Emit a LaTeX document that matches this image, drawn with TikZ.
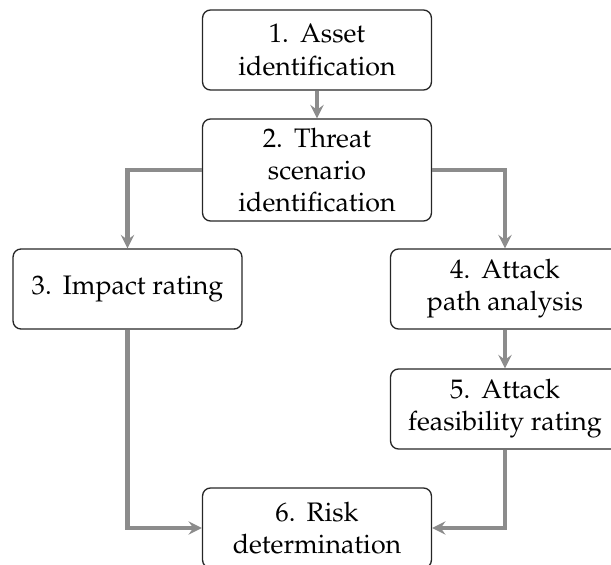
\documentclass[tikz,border=0pt]{standalone}
\usepackage[T1]{fontenc}
\usepackage{mathpazo}
\usetikzlibrary{arrows.meta}
\newcommand{\stepno}[1]{#1.\hspace{4.2pt}}
\begin{document}
\begin{tikzpicture}[x=0.3735pt,y=-0.3735pt,
  stepbox/.style={draw=black!85, line width=0.5pt, rounded corners=3pt,
    minimum width=85.5pt, minimum height=29.9pt, align=center, font=\fontsize{10}{12}\selectfont},
  flow/.style={draw=black!45, line width=1.5pt, -{Stealth[length=5pt,width=5pt,inset=1.8pt]}}]
\useasboundingbox (0,0) rectangle (611,565);
\node[stepbox] (b1) at (317,50) {\stepno{1}Asset\\identification};
\node[stepbox] (b2) at (317,170) {\stepno{2}Threat\\scenario\\identification};
\node[stepbox] (b3) at (127.5,289) {\stepno{3}Impact rating};
\node[stepbox] (b4) at (505,289) {\stepno{4}Attack\\path analysis};
\node[stepbox] (b5) at (505,409) {\stepno{5}Attack\\feasibility rating};
\node[stepbox] (b6) at (317,528) {\stepno{6}Risk\\determination};
\draw[flow] (b1) -- (b2);
\draw[flow] (b2.west) -| (b3.north);
\draw[flow] (b2.east) -| (b4.north);
\draw[flow] (b4) -- (b5);
\draw[flow] (b3.south) |- (b6.west);
\draw[flow] (b5.south) |- (b6.east);
\end{tikzpicture}
\end{document}
